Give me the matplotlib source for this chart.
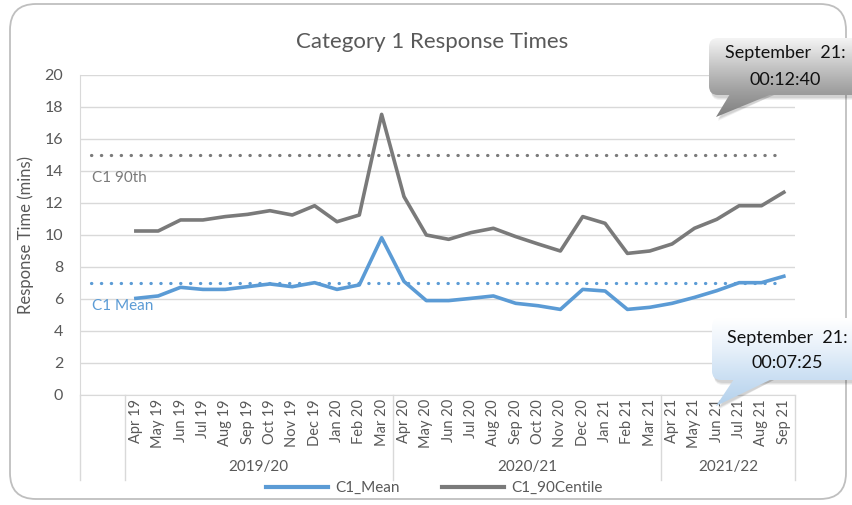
import numpy as np
import matplotlib
matplotlib.use('Agg')
import matplotlib.pyplot as plt
from matplotlib.patches import FancyBboxPatch, Polygon
from matplotlib.colors import LinearSegmentedColormap
from matplotlib.lines import Line2D
import matplotlib.transforms as mtransforms

plt.rcParams['font.family'] = ['Lato', 'DejaVu Sans']

# data
months = ['Apr 19', 'May 19', 'Jun 19', 'Jul 19', 'Aug 19', 'Sep 19', 'Oct 19', 'Nov 19',
          'Dec 19', 'Jan 20', 'Feb 20', 'Mar 20',
          'Apr 20', 'May 20', 'Jun 20', 'Jul 20', 'Aug 20', 'Sep 20', 'Oct 20', 'Nov 20',
          'Dec 20', 'Jan 21', 'Feb 21', 'Mar 21',
          'Apr 21', 'May 21', 'Jun 21', 'Jul 21', 'Aug 21', 'Sep 21']
c1_mean = [6.04, 6.19, 6.73, 6.6, 6.6, 6.77, 6.94, 6.77, 7.02, 6.6, 6.88, 9.83,
           7.1, 5.9, 5.9, 6.04, 6.19, 5.73, 5.58, 5.35, 6.6, 6.5, 5.35, 5.48,
           5.73, 6.1, 6.52, 7.02, 7.02, 7.42]
c1_90th = [10.25, 10.25, 10.94, 10.94, 11.15, 11.29, 11.52, 11.25, 11.83, 10.83, 11.25, 17.54,
           12.4, 10.0, 9.73, 10.15, 10.42, 9.9, 9.44, 9.0, 11.15, 10.73, 8.85, 9.0,
           9.44, 10.42, 10.98, 11.83, 11.83, 12.67]
groups = ['', '2019/20', '2020/21', '2021/22']
group_sizes = [2, 12, 12, 6]
mean_target = 7
p90_target = 15

BLUE = '#5B9BD5'
GREY = '#7A7A7A'
TXT = '#595959'
GRID = '#D9D9D9'


def callout(ov, box, tip, base, cols):
    '''rounded callout box with pointer and vertical gradient'''
    x0, y0, x1, y1 = box
    # soft shadow
    for k, a in [(5, 0.05), (4, 0.06), (3, 0.07)]:
        ov.add_patch(FancyBboxPatch((x0 + 2, y0 + k), x1 - x0, y1 - y0,
                                    boxstyle='round,pad=0,rounding_size=9',
                                    fc='#000000', ec='none', alpha=a, zorder=1))
        ov.add_patch(Polygon([(tip[0] + 2, tip[1] + k - 1), (base[0] + 2, y1), (base[1] + 2, y1)],
                             closed=True, fc='#000000', ec='none', alpha=a, zorder=1))
    cmap = LinearSegmentedColormap.from_list('g', cols)
    grad = np.linspace(0, 1, 100).reshape(-1, 1)
    body = FancyBboxPatch((x0, y0), x1 - x0, y1 - y0,
                          boxstyle='round,pad=0,rounding_size=9',
                          fc='none', ec='none')
    ptr = Polygon([tip, (base[0], y1 - 1), (base[1], y1 - 1)], closed=True,
                  fc='none', ec='none')
    ov.add_patch(body)
    ov.add_patch(ptr)
    for clip in (body, ptr):
        im = ov.imshow(grad, cmap=cmap, aspect='auto', origin='upper', zorder=2,
                       extent=(x0, x1, tip[1], y0), interpolation='bilinear')
        im.set_clip_path(clip)


def main():
    cats = [''] * group_sizes[0] + months
    x = np.arange(len(cats))
    xm = x[group_sizes[0]:]

    fig = plt.figure(figsize=(8.52, 5.05), dpi=100)
    W, H = 852, 505

    # frame of the chart
    ov = fig.add_axes([0, 0, 1, 1], zorder=5)
    ov.set_xlim(0, W)
    ov.set_ylim(H, 0)
    ov.axis('off')
    ov.patch.set_alpha(0)
    ov.add_patch(FancyBboxPatch((10, 4), 836, 495, boxstyle='round,pad=0,rounding_size=26',
                                fc='none', ec='#BFBFBF', lw=1.3))

    ax = fig.add_axes([80 / W, 1 - 395 / H, 715 / W, 320 / H])
    ax.set_xlim(-0.5, len(cats) - 0.5)
    ax.set_ylim(0, 20)
    ax.set_yticks(range(0, 21, 2))
    ax.grid(axis='y', color=GRID, lw=1)
    ax.set_axisbelow(True)
    for s in ['top', 'right']:
        ax.spines[s].set_visible(False)
    ax.spines['left'].set_color(GRID)
    ax.spines['bottom'].set_color(GRID)
    ax.tick_params(axis='y', length=0, labelsize=11.5, labelcolor=TXT, pad=12)
    ax.set_xticks(x)
    ax.set_xticklabels(cats, rotation=90, fontsize=10.5, color=TXT)
    ax.tick_params(axis='x', length=0, pad=3)
    ax.set_ylabel('Response Time (mins)', fontsize=12, color=TXT)
    ax.yaxis.set_label_coords(-(80 - 34) / 715, 0.5)

    # target lines across every category
    ax.plot(x, [p90_target] * len(x), color=GREY, lw=2.3, ls=(0, (0.1, 3.0)),
            dash_capstyle='round')
    ax.plot(x, [mean_target] * len(x), color=BLUE, lw=2.3, ls=(0, (0.1, 3.0)),
            dash_capstyle='round')
    ax.text(0.05, p90_target - 1.45, 'C1 90th', color=GREY, fontsize=11, va='center')
    ax.text(0.05, mean_target - 1.45, 'C1 Mean', color=BLUE, fontsize=11, va='center')

    ax.plot(xm, c1_mean, color=BLUE, lw=2.6, solid_joinstyle='round')
    ax.plot(xm, c1_90th, color=GREY, lw=2.6, solid_joinstyle='round')

    # grouped category axis
    tr = mtransforms.blended_transform_factory(ax.transData, ax.transAxes)
    low = -(480 - 395) / 320
    edges = np.cumsum([0] + group_sizes) - 0.5
    for e in edges:
        ax.plot([e, e], [0, low], transform=tr, color=GRID, lw=1, clip_on=False)
    for g, a, b in zip(groups, edges[:-1], edges[1:]):
        ax.text((a + b) / 2, -(467 - 395) / 320, g, transform=tr, ha='center',
                va='center', fontsize=11, color=TXT)

    fig.text(0.507, 1 - 42 / H, 'Category 1 Response Times', ha='center', va='center',
             fontsize=16, color=TXT)

    handles = [Line2D([], [], color=BLUE, lw=3), Line2D([], [], color=GREY, lw=3)]
    fig.legend(handles, ['C1_Mean', 'C1_90Centile'], loc='center',
               bbox_to_anchor=(0.51, 1 - 488 / H), ncol=2, frameon=False,
               fontsize=11, handlelength=4.0, columnspacing=2.8, handletextpad=0.5,
               labelcolor=TXT)

    # callouts with last values
    callout(ov, (709, 38, 870, 95), (716, 117), (730, 772),
            ['#F4F4F4', '#C8C8C8', '#A0A0A0', '#808080'])
    ov.text(785, 53, 'September  21:', ha='center', va='center', fontsize=13,
            color='#111111', zorder=3)
    ov.text(785, 80, '00:12:40', ha='center', va='center', fontsize=13,
            color='#111111', zorder=3)

    callout(ov, (712, 318, 870, 380), (716, 406), (734, 772),
            ['#FFFFFF', '#E8F1FA', '#CCE0F3', '#B4D1EC'])
    ov.text(787, 338, 'September  21:', ha='center', va='center', fontsize=13,
            color='#111111', zorder=3)
    ov.text(787, 363, '00:07:25', ha='center', va='center', fontsize=13,
            color='#111111', zorder=3)

    fig.savefig('out.png', dpi=100)


if __name__ == '__main__':
    main()
